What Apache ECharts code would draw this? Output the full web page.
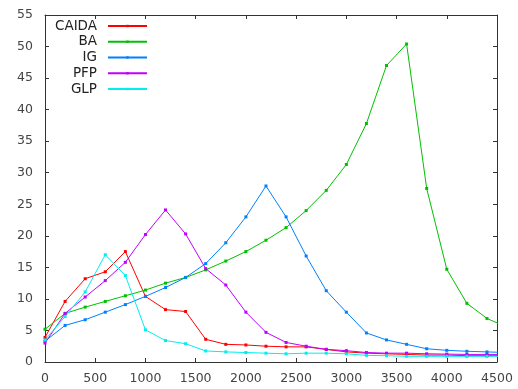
<!DOCTYPE html>
<html>
<head>
<meta charset="utf-8">
<script src="https://cdn.jsdelivr.net/npm/echarts@6/dist/echarts.min.js"></script>
<style>
  html, body { margin: 0; padding: 0; background: #fff; }
  #chart { width: 518px; height: 389px; }
</style>
</head>
<body>
<div id="chart"></div>
<script>
// Sample positions along the x axis (the last one lies past the axis end and is clipped)
const xValues = [0, 200, 400, 600, 800, 1000, 1200, 1400, 1600, 1800, 2000, 2200,
                 2400, 2600, 2800, 3000, 3200, 3400, 3600, 3800, 4000, 4200, 4400, 4600];

const caida = [3.9, 9.6, 13.2, 14.3, 17.5, 10.4, 8.3, 8.0, 3.6, 2.8, 2.7, 2.5,
               2.4, 2.4, 2.0, 1.6, 1.4, 1.3, 1.2, 1.1, 1.1, 1.0, 1.0, 1.0];
const ba    = [5.2, 7.7, 8.7, 9.6, 10.5, 11.4, 12.5, 13.4, 14.6, 16.0, 17.5, 19.3,
               21.3, 24.0, 27.2, 31.3, 37.8, 47.0, 50.4, 27.5, 14.7, 9.3, 6.9, 5.5];
const ig    = [3.3, 5.8, 6.7, 7.9, 9.1, 10.4, 11.8, 13.4, 15.6, 18.9, 23.0, 27.9,
               23.0, 16.8, 11.3, 7.9, 4.6, 3.5, 2.8, 2.1, 1.85, 1.7, 1.6, 1.5];
const pfp   = [3.0, 7.7, 10.3, 12.9, 15.8, 20.2, 24.1, 20.3, 14.8, 12.2, 7.9, 4.7,
               3.1, 2.5, 2.0, 1.8, 1.5, 1.4, 1.4, 1.3, 1.25, 1.2, 1.2, 1.2];
const glp   = [3.5, 7.2, 11.1, 17.0, 13.7, 5.1, 3.4, 2.9, 1.75, 1.6, 1.5, 1.4,
               1.3, 1.4, 1.4, 1.3, 1.05, 1.0, 0.9, 0.9, 0.9, 0.9, 0.9, 0.9];

const seriesNames  = ['CAIDA', 'BA', 'IG', 'PFP', 'GLP'];
const seriesValues = [caida, ba, ig, pfp, glp];
const seriesColors = ['#ff0000', '#00c000', '#0080ff', '#c000ff', '#00eeee'];

const FONT = 'DejaVu Sans';
const AXIS_COLOR = '#333333';

function pairs(ys) {
  return xValues.map((x, i) => [x, ys[i]]);
}

// plain integer tick text, no thousands separators
const plainNumber = v => String(v);

function axisBase(extra) {
  return Object.assign({
    type: 'value',
    axisLine: { show: true, onZero: false, lineStyle: { color: AXIS_COLOR, width: 1 } },
    axisTick: { show: true, inside: true, length: 4, lineStyle: { color: AXIS_COLOR } },
    splitLine: { show: false },
    axisLabel: { show: false }
  }, extra);
}

const chart = echarts.init(document.getElementById('chart'), null, { renderer: 'canvas' });

chart.setOption({
  animation: false,
  backgroundColor: '#ffffff',
  grid: { left: 45, right: 21, top: 15, bottom: 27, containLabel: false },
  xAxis: [
    axisBase({
      position: 'bottom', min: 0, max: 4500, interval: 500,
      axisLabel: { show: true, color: '#444', fontFamily: FONT, fontSize: 12.5, margin: 10,
                   formatter: plainNumber, hideOverlap: false }
    }),
    axisBase({ position: 'top', min: 0, max: 4500, interval: 500 })
  ],
  yAxis: [
    axisBase({
      position: 'left', min: 0, max: 55, interval: 5,
      axisLabel: { show: true, color: '#444', fontFamily: FONT, fontSize: 12.5, margin: 12,
                   formatter: plainNumber }
    }),
    axisBase({ position: 'right', min: 0, max: 55, interval: 5 })
  ],
  legend: {
    orient: 'vertical',
    align: 'right',
    left: 47,
    top: 19,
    padding: 0,
    itemWidth: 39,
    itemHeight: 3,
    itemGap: 1.75,
    data: seriesNames,
    textStyle: {
      fontFamily: FONT, fontSize: 13.5, color: '#222',
      width: 50, align: 'right', lineHeight: 14, padding: [0, 6, 0, 0]
    }
  },
  series: seriesNames.map((name, i) => ({
    name: name,
    type: 'line',
    xAxisIndex: 0,
    yAxisIndex: 0,
    data: pairs(seriesValues[i]),
    clip: true,
    symbol: 'rect',
    symbolSize: 3,
    showSymbol: true,
    color: seriesColors[i],
    lineStyle: { width: 1, color: seriesColors[i] },
    itemStyle: { color: seriesColors[i] },
    emphasis: { disabled: true }
  }))
});
</script>
</body>
</html>
